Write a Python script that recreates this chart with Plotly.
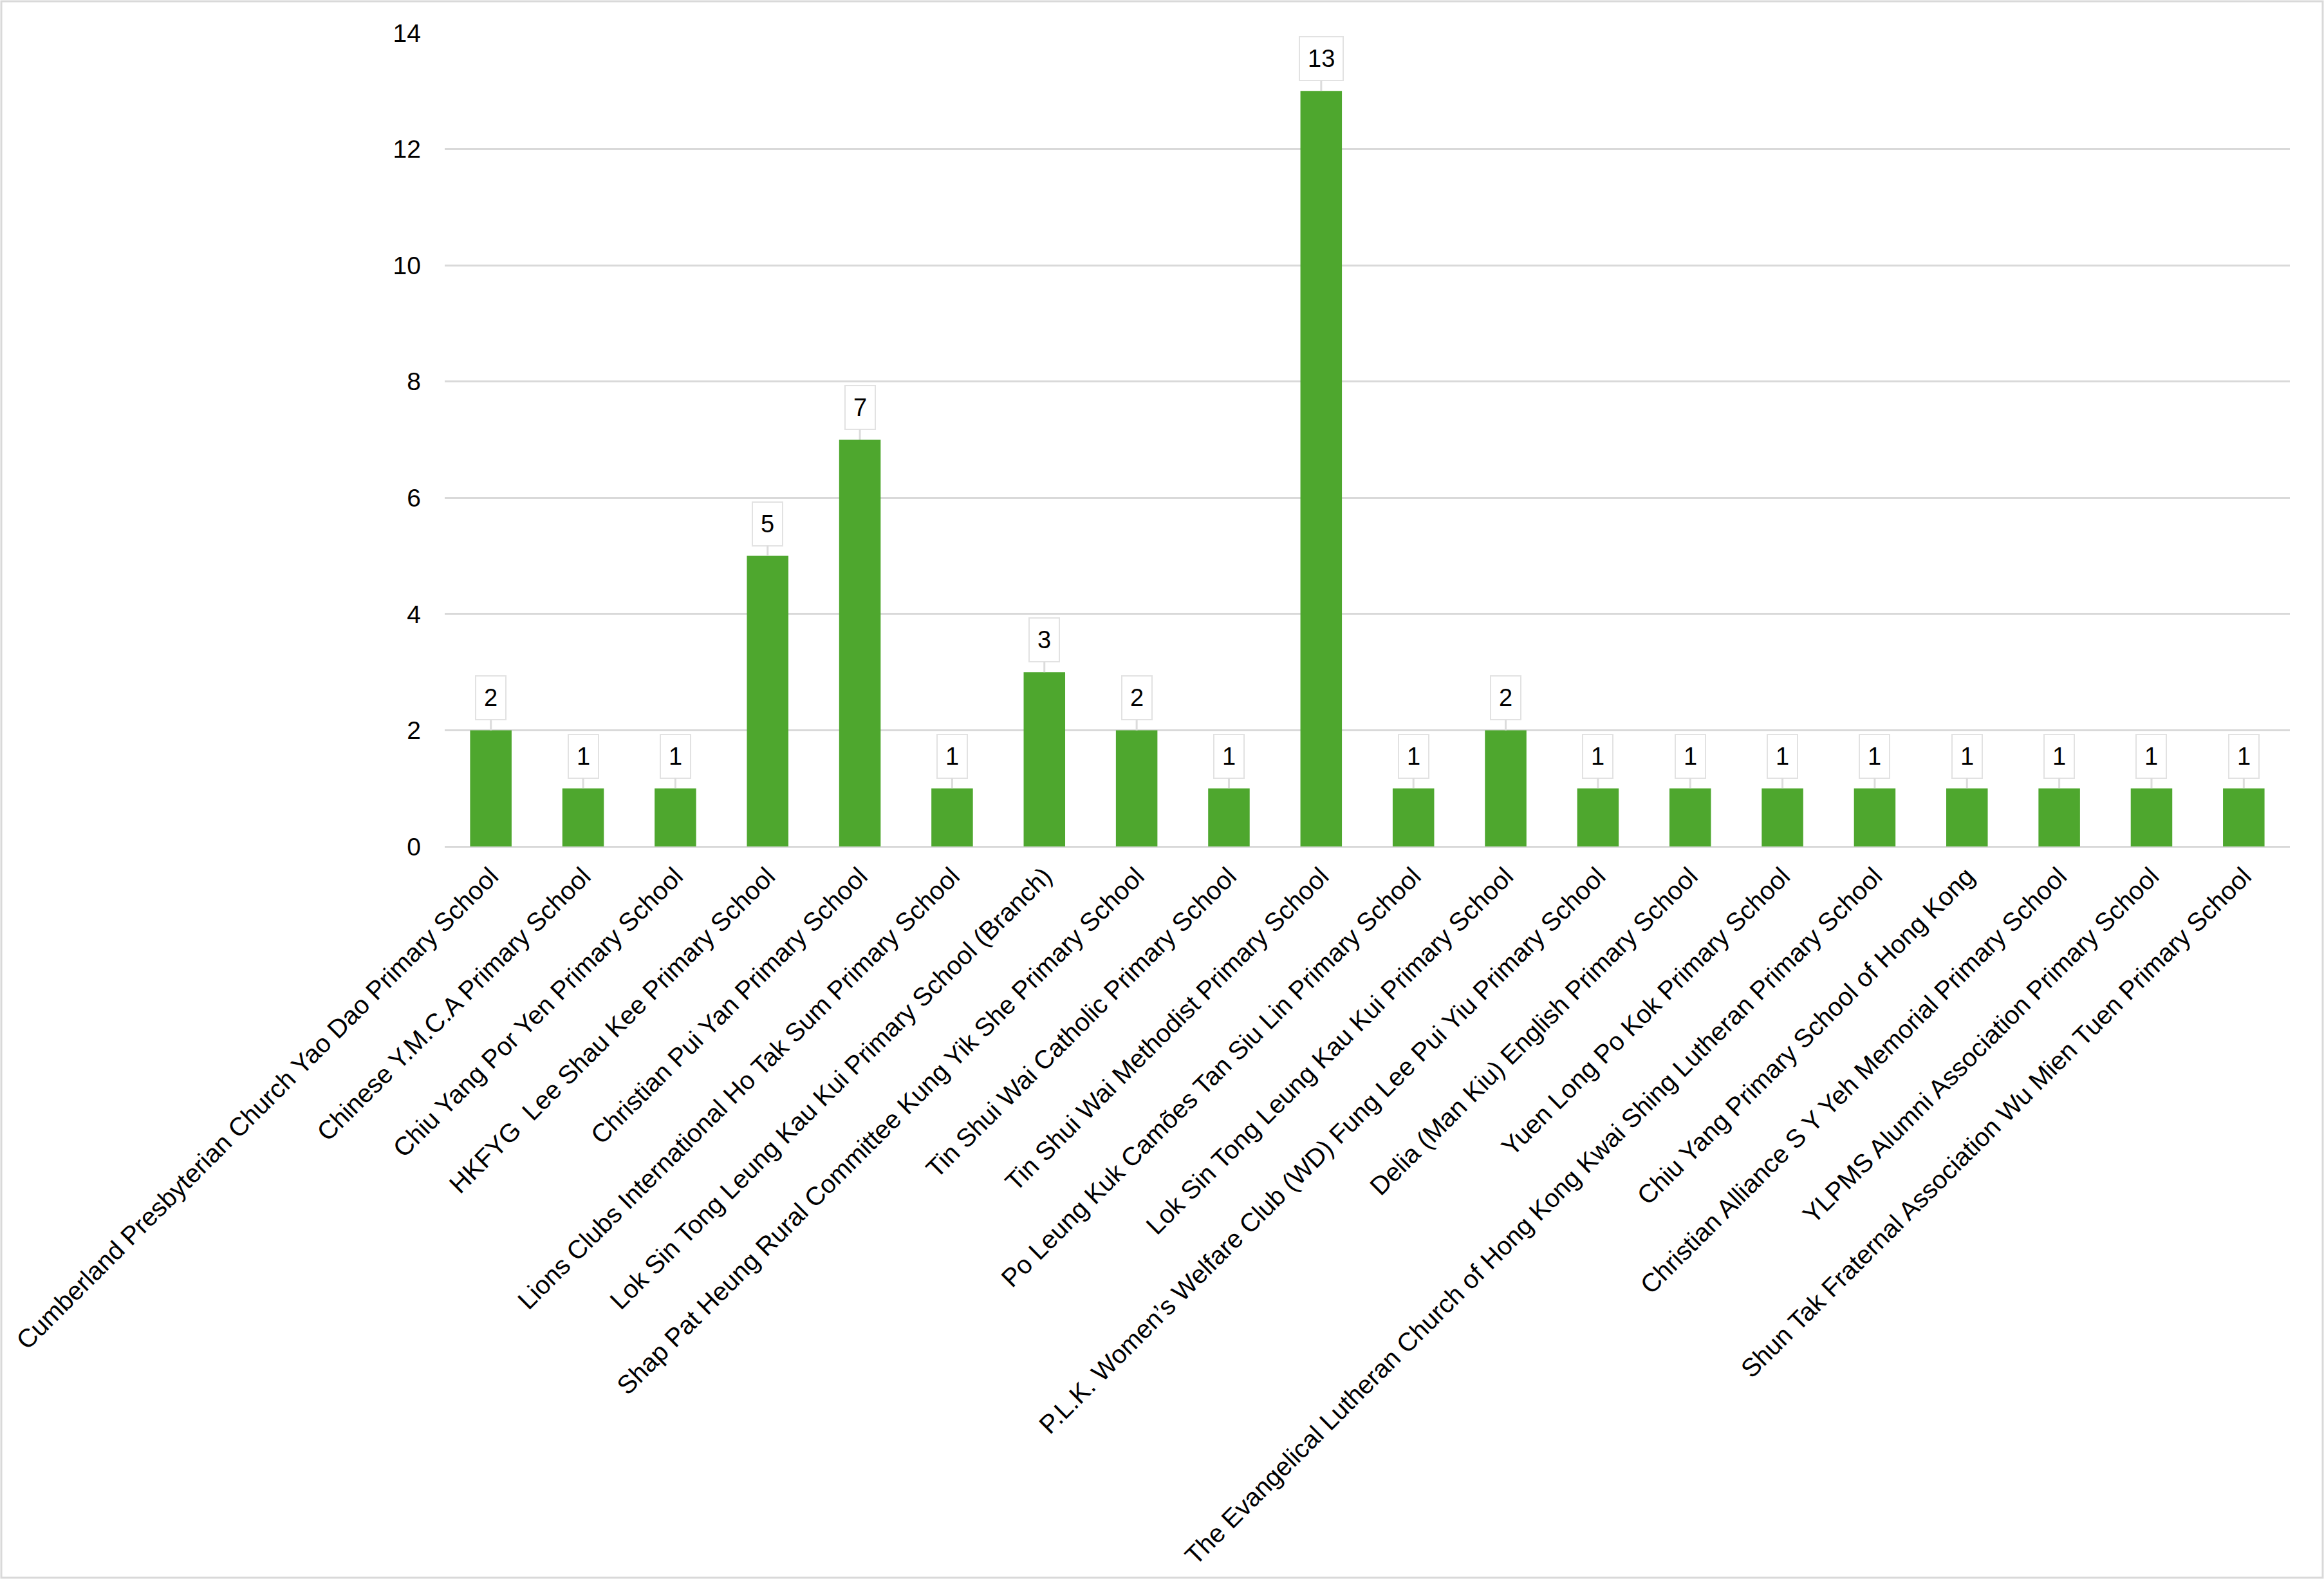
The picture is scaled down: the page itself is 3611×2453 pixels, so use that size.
import plotly.graph_objects as go

# schools and counts
schools = [
    "Cumberland Presbyterian Church Yao Dao Primary School",
    "Chinese Y.M.C.A Primary School",
    "Chiu Yang Por Yen Primary School",
    "HKFYG  Lee Shau Kee Primary School",
    "Christian Pui Yan Primary School",
    "Lions Clubs International Ho Tak Sum Primary School",
    "Lok Sin Tong Leung Kau Kui Primary School (Branch)",
    "Shap Pat Heung Rural Committee Kung Yik She Primary School",
    "Tin Shui Wai Catholic Primary School",
    "Tin Shui Wai Methodist Primary School",
    "Po Leung Kuk Camões Tan Siu Lin Primary School",
    "Lok Sin Tong Leung Kau Kui Primary School",
    "P.L.K. Women’s Welfare Club (WD) Fung Lee Pui Yiu Primary School",
    "Delia (Man Kiu) English Primary School",
    "Yuen Long Po Kok Primary School",
    "The Evangelical Lutheran Church of Hong Kong Kwai Shing Lutheran Primary School",
    "Chiu Yang Primary School of Hong Kong",
    "Christian Alliance S Y Yeh Memorial Primary School",
    "YLPMS Alumni Association Primary School",
    "Shun Tak Fraternal Association Wu Mien Tuen Primary School",
]
counts = [2, 1, 1, 5, 7, 1, 3, 2, 1, 13, 1, 2, 1, 1, 1, 1, 1, 1, 1, 1]

y_ticks = [0, 2, 4, 6, 8, 10, 12, 14]

W, H = 3611, 2453
ml, mr, mt, mb = 691, 53, 51, 1138
FONT = "Liberation Sans, Arial, sans-serif"

fig = go.Figure()
fig.add_trace(go.Bar(x=schools, y=counts, marker_color="#4ea72e", marker_line_width=0, hoverinfo="x+y"))

# callout style data labels
for s, c in zip(schools, counts):
    fig.add_annotation(
        x=s, y=c, text=str(c),
        showarrow=True, arrowhead=0, arrowwidth=3, arrowcolor="#dcdcdc",
        ax=0, ay=-50, standoff=0,
        bgcolor="white", bordercolor="#e2e2e2", borderwidth=2, borderpad=12,
        font=dict(family=FONT, size=38, color="black"),
    )

pw = W - ml - mr
ph = H - mt - mb
# light border round the whole chart area
fig.add_shape(
    type="rect", xref="paper", yref="paper",
    x0=-(ml - 2) / pw, x1=1 + (mr - 2) / pw,
    y0=-(mb - 2) / ph, y1=1 + (mt - 2) / ph,
    line=dict(color="#d9d9d9", width=3), layer="below",
)

fig.update_layout(
    width=W, height=H,
    margin=dict(l=ml, r=mr, t=mt, b=mb, autoexpand=False),
    plot_bgcolor="white", paper_bgcolor="white",
    bargap=0.55, showlegend=False,
    font=dict(family=FONT, size=38, color="black"),
    xaxis=dict(tickangle=-45, showgrid=False, showline=False, ticks="", automargin=False,
               tickfont=dict(size=40), ticklabelstandoff=14),
    yaxis=dict(range=[0, 14], tickvals=y_ticks, showgrid=True, gridcolor="#d9d9d9", gridwidth=3,
               zeroline=True, zerolinecolor="#d9d9d9", zerolinewidth=3, ticks="", ticklen=0,
               automargin=False, tickfont=dict(size=39), ticklabelstandoff=36),
)

fig.write_html("out.html", config={"displayModeBar": False},
               post_script="document.body.style.margin='0';")
